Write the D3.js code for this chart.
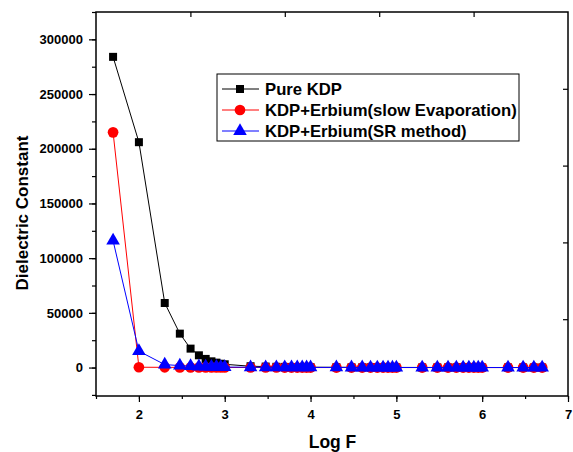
<!DOCTYPE html>
<html>
<head>
<meta charset="utf-8">
<script src="https://cdn.jsdelivr.net/npm/d3@7"></script>
<style>
  body { margin: 0; background: #fff; }
  svg { display: block; font-family: Arial, "Liberation Sans", sans-serif; }
</style>
</head>
<body>
<svg id="chart" width="573" height="452"></svg>
<script>
// log10 of the measured frequencies (50 Hz .. 5 MHz)
const logF = [1.699, 2, 2.301, 2.477, 2.602, 2.699, 2.778, 2.845, 2.903, 2.954,
  3, 3.301, 3.477, 3.602, 3.699, 3.778, 3.845, 3.903, 3.954,
  4, 4.301, 4.477, 4.602, 4.699, 4.778, 4.845, 4.903, 4.954,
  5, 5.301, 5.477, 5.602, 5.699, 5.778, 5.845, 5.903, 5.954,
  6, 6.301, 6.477, 6.602, 6.699];

const pureKDP = [284000, 206000, 59000, 31000, 17300, 11200, 7900, 5700, 4500, 3500,
  3000, 1200, 900, 700, 600, 500, 450, 400, 350,
  300, 250, 200, 180, 160, 150, 140, 130, 120,
  110, 100, 90, 85, 80, 75, 70, 65, 60,
  55, 50, 45, 40, 35];

const erSlow = [215000, 300, 200, 150, 120, 100, 90, 80, 70, 60,
  55, 40, 35, 30, 28, 26, 24, 22, 20,
  18, 15, 13, 12, 11, 10, 10, 9, 9,
  8, 7, 6, 6, 5, 5, 5, 4, 4,
  4, 3, 3, 3, 3];

const erSR = [116000, 15000, 2700, 1800, 1300, 1000, 800, 700, 600, 500,
  450, 300, 250, 200, 180, 160, 150, 140, 130,
  120, 100, 90, 80, 70, 65, 60, 55, 50,
  45, 40, 35, 32, 30, 28, 26, 24, 22,
  20, 18, 16, 15, 14];

const seriesNames = ["Pure KDP", "KDP+Erbium(slow Evaporation)", "KDP+Erbium(SR method)"];
const seriesColors = ["#000000", "#ff0000", "#0000ff"];
const seriesShapes = [d3.symbolSquare, d3.symbolCircle, d3.symbolTriangle];
const seriesValues = [pureKDP, erSlow, erSR];

const xTicks = [2, 3, 4, 5, 6, 7];
const yTicks = [0, 50000, 100000, 150000, 200000, 250000, 300000];

const svg = d3.select("#chart");
const L = 96, R = 568, T = 12, B = 396;

const x = d3.scaleLinear().domain([1.5, 7]).range([L, R]);
const y = d3.scaleLinear().domain([-26000, 325000]).range([B, T]);

// minor ticks
svg.append("g")
  .attr("transform", `translate(0,${B})`)
  .call(d3.axisBottom(x).tickValues(d3.range(1.5, 7.01, 0.5)).tickSize(3).tickFormat(""))
  .call(g => g.select(".domain").remove());
svg.append("g")
  .attr("transform", `translate(${L},0)`)
  .call(d3.axisLeft(y).tickValues(d3.range(-25000, 325001, 25000)).tickSize(4).tickFormat(""))
  .call(g => g.select(".domain").remove());

// major ticks + labels
const xAxis = svg.append("g")
  .attr("transform", `translate(0,${B})`)
  .call(d3.axisBottom(x).tickValues(xTicks).tickSize(6).tickPadding(8).tickFormat(d3.format("d")));
const yAxis = svg.append("g")
  .attr("transform", `translate(${L},0)`)
  .call(d3.axisLeft(y).tickValues(yTicks).tickSize(7).tickPadding(6).tickFormat(d3.format("d")));
[xAxis, yAxis].forEach(g => {
  g.select(".domain").remove();
  g.selectAll("text").attr("font-size", 13).attr("font-weight", "bold")
    .attr("font-family", "Arial, 'Liberation Sans', sans-serif").attr("fill", "#000");
});
svg.selectAll(".tick line").attr("stroke", "#000").attr("stroke-width", 1.2);

// top and right axes (5 unlabeled divisions, ticks inward)
const topScale = d3.scaleLinear().domain([0, 5]).range([L, R]);
const rightScale = d3.scaleLinear().domain([0, 5]).range([B, T]);
svg.append("g").attr("transform", `translate(0,${T})`)
  .call(d3.axisTop(topScale).tickValues([1, 2, 3, 4]).tickSize(-5).tickFormat(""))
  .call(g => g.select(".domain").remove())
  .selectAll("line").attr("stroke-width", 1.2);
svg.append("g").attr("transform", `translate(${R},0)`)
  .call(d3.axisRight(rightScale).tickValues([1, 2, 3, 4]).tickSize(-5).tickFormat(""))
  .call(g => g.select(".domain").remove())
  .selectAll("line").attr("stroke-width", 1.2);

// frame
svg.append("rect").attr("x", L).attr("y", T).attr("width", R - L).attr("height", B - T)
  .attr("fill", "none").attr("stroke", "#000").attr("stroke-width", 1.5);

// series
const line = d3.line().x(d => x(d[0])).y(d => y(d[1]));
const symSize = [64, 90, 80];
seriesValues.forEach((vals, i) => {
  const pts = logF.map((f, j) => [f, vals[j]]);
  svg.append("path").datum(pts).attr("d", line)
    .attr("fill", "none").attr("stroke", seriesColors[i]).attr("stroke-width", 1);
  svg.append("g").selectAll("path").data(pts).join("path")
    .attr("transform", d => `translate(${x(d[0])},${y(d[1])})`)
    .attr("d", d3.symbol(seriesShapes[i], symSize[i]))
    .attr("fill", seriesColors[i]);
});

// legend
const lg = svg.append("g");
lg.append("rect").attr("x", 217).attr("y", 74).attr("width", 302).attr("height", 67)
  .attr("fill", "#fff").attr("stroke", "#000").attr("stroke-width", 1);
seriesNames.forEach((name, i) => {
  const yy = 89 + i * 21;
  lg.append("line").attr("x1", 222).attr("x2", 259).attr("y1", yy).attr("y2", yy)
    .attr("stroke", seriesColors[i]).attr("stroke-width", 1);
  lg.append("path").attr("transform", `translate(240,${yy})`)
    .attr("d", d3.symbol(seriesShapes[i], symSize[i]))
    .attr("fill", seriesColors[i]);
  lg.append("text").attr("x", 265).attr("y", yy).attr("dy", "0.36em")
    .attr("font-size", 16.7).attr("font-weight", "bold").text(name);
});

// axis titles
svg.append("text").attr("x", 332.5).attr("y", 448)
  .attr("text-anchor", "middle").attr("font-size", 17.5).attr("font-weight", "bold").text("Log F");
svg.append("text").attr("transform", "translate(28,213) rotate(-90)")
  .attr("text-anchor", "middle").attr("font-size", 17).attr("font-weight", "bold")
  .text("Dielectric Constant");
</script>
</body>
</html>
